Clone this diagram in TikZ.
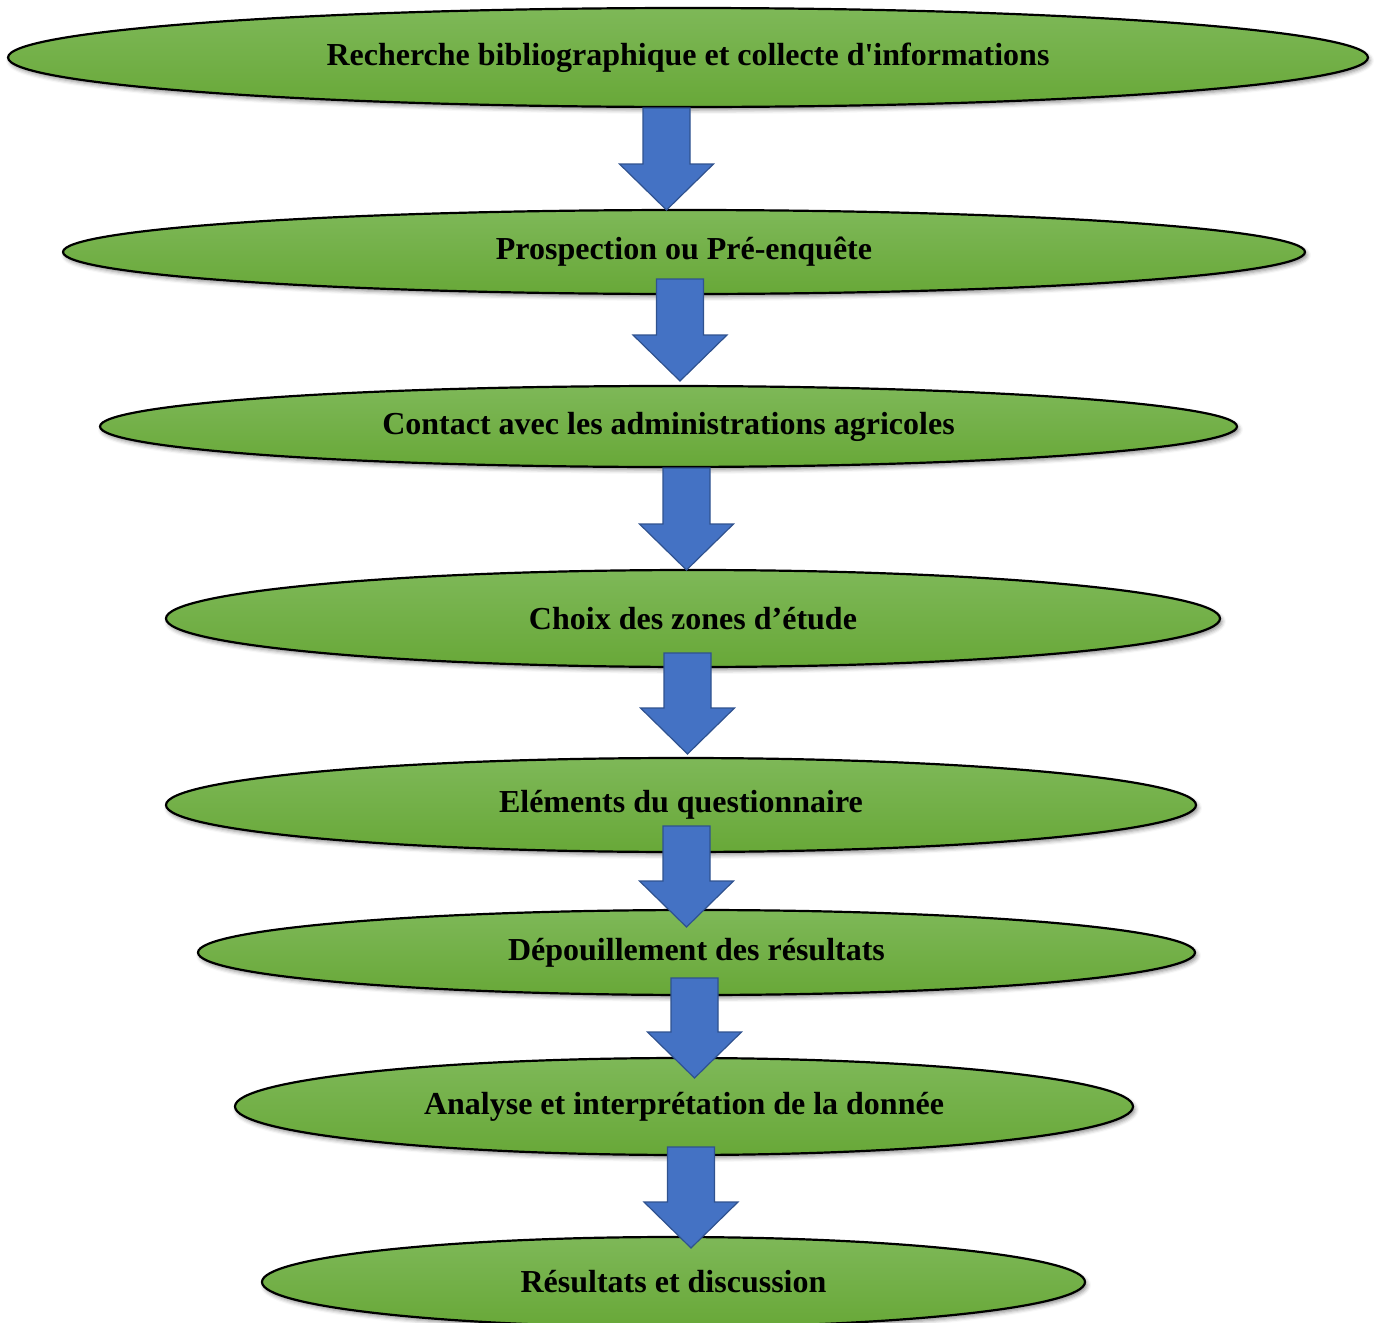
\documentclass[tikz,border=0pt]{standalone}
\usepackage{fontspec}
\setmainfont{Liberation Serif}
\usepackage{tikz}
\usetikzlibrary{shapes.geometric,shadows.blur}

\definecolor{leafTop}{RGB}{126,184,88}
\definecolor{leafBot}{RGB}{104,168,56}
\definecolor{arrowFill}{RGB}{68,114,196}
\definecolor{arrowLine}{RGB}{47,82,143}

\tikzset{
  etape/.style={ellipse,draw=black,line width=1.1pt,top color=leafTop,bottom color=leafBot,
    inner sep=0pt,font=\fontsize{16}{19}\selectfont\bfseries,
    blur shadow={shadow xshift=1pt,shadow yshift=-1.5pt,shadow blur radius=2pt,shadow opacity=45}},
  fleche/.style={fill=arrowFill,draw=arrowLine,line width=0.6pt,line join=miter}
}

\begin{document}
\begin{tikzpicture}[x=0.5pt,y=-0.5pt]
\useasboundingbox (0,0) rectangle (1378,1323);
% etapes
\node[etape,minimum width=680pt,minimum height=49.5pt] (e1) at (688,57.5) {Recherche bibliographique et collecte d\textquotesingle informations};
\node[etape,minimum width=621pt,minimum height=42pt] (e2) at (684,252) {Prospection ou Pré-enquête};
\node[etape,minimum width=568.5pt,minimum height=40.5pt] (e3) at (668.5,426.5) {Contact avec les administrations agricoles};
\node[etape,minimum width=527pt,minimum height=48.5pt] (e4) at (693,618.5) {Choix des zones d’étude};
\node[etape,minimum width=515pt,minimum height=47pt] (e5) at (681,805) {Eléments du questionnaire};
\node[etape,minimum width=498.5pt,minimum height=42.5pt] (e6) at (696.5,952.5) {Dépouillement des résultats};
\node[etape,minimum width=449pt,minimum height=48.5pt] (e7) at (684,1106.5) {Analyse et interprétation de la donnée};
\node[etape,minimum width=411.5pt,minimum height=45pt] (e8) at (673.5,1282) {Résultats et discussion};
% fleches
\foreach \c/\t/\p in {666.5/108/210, 680/279/381, 686.5/468/570, 687.5/653/754, 686.5/826/927, 694.5/978/1078, 691/1147/1248}
  \draw[fleche] (\c-23.5,\t) -- (\c+23.5,\t) -- (\c+23.5,\p-46) -- (\c+47,\p-46) -- (\c,\p) -- (\c-47,\p-46) -- (\c-23.5,\p-46) -- cycle;
\end{tikzpicture}
\end{document}
